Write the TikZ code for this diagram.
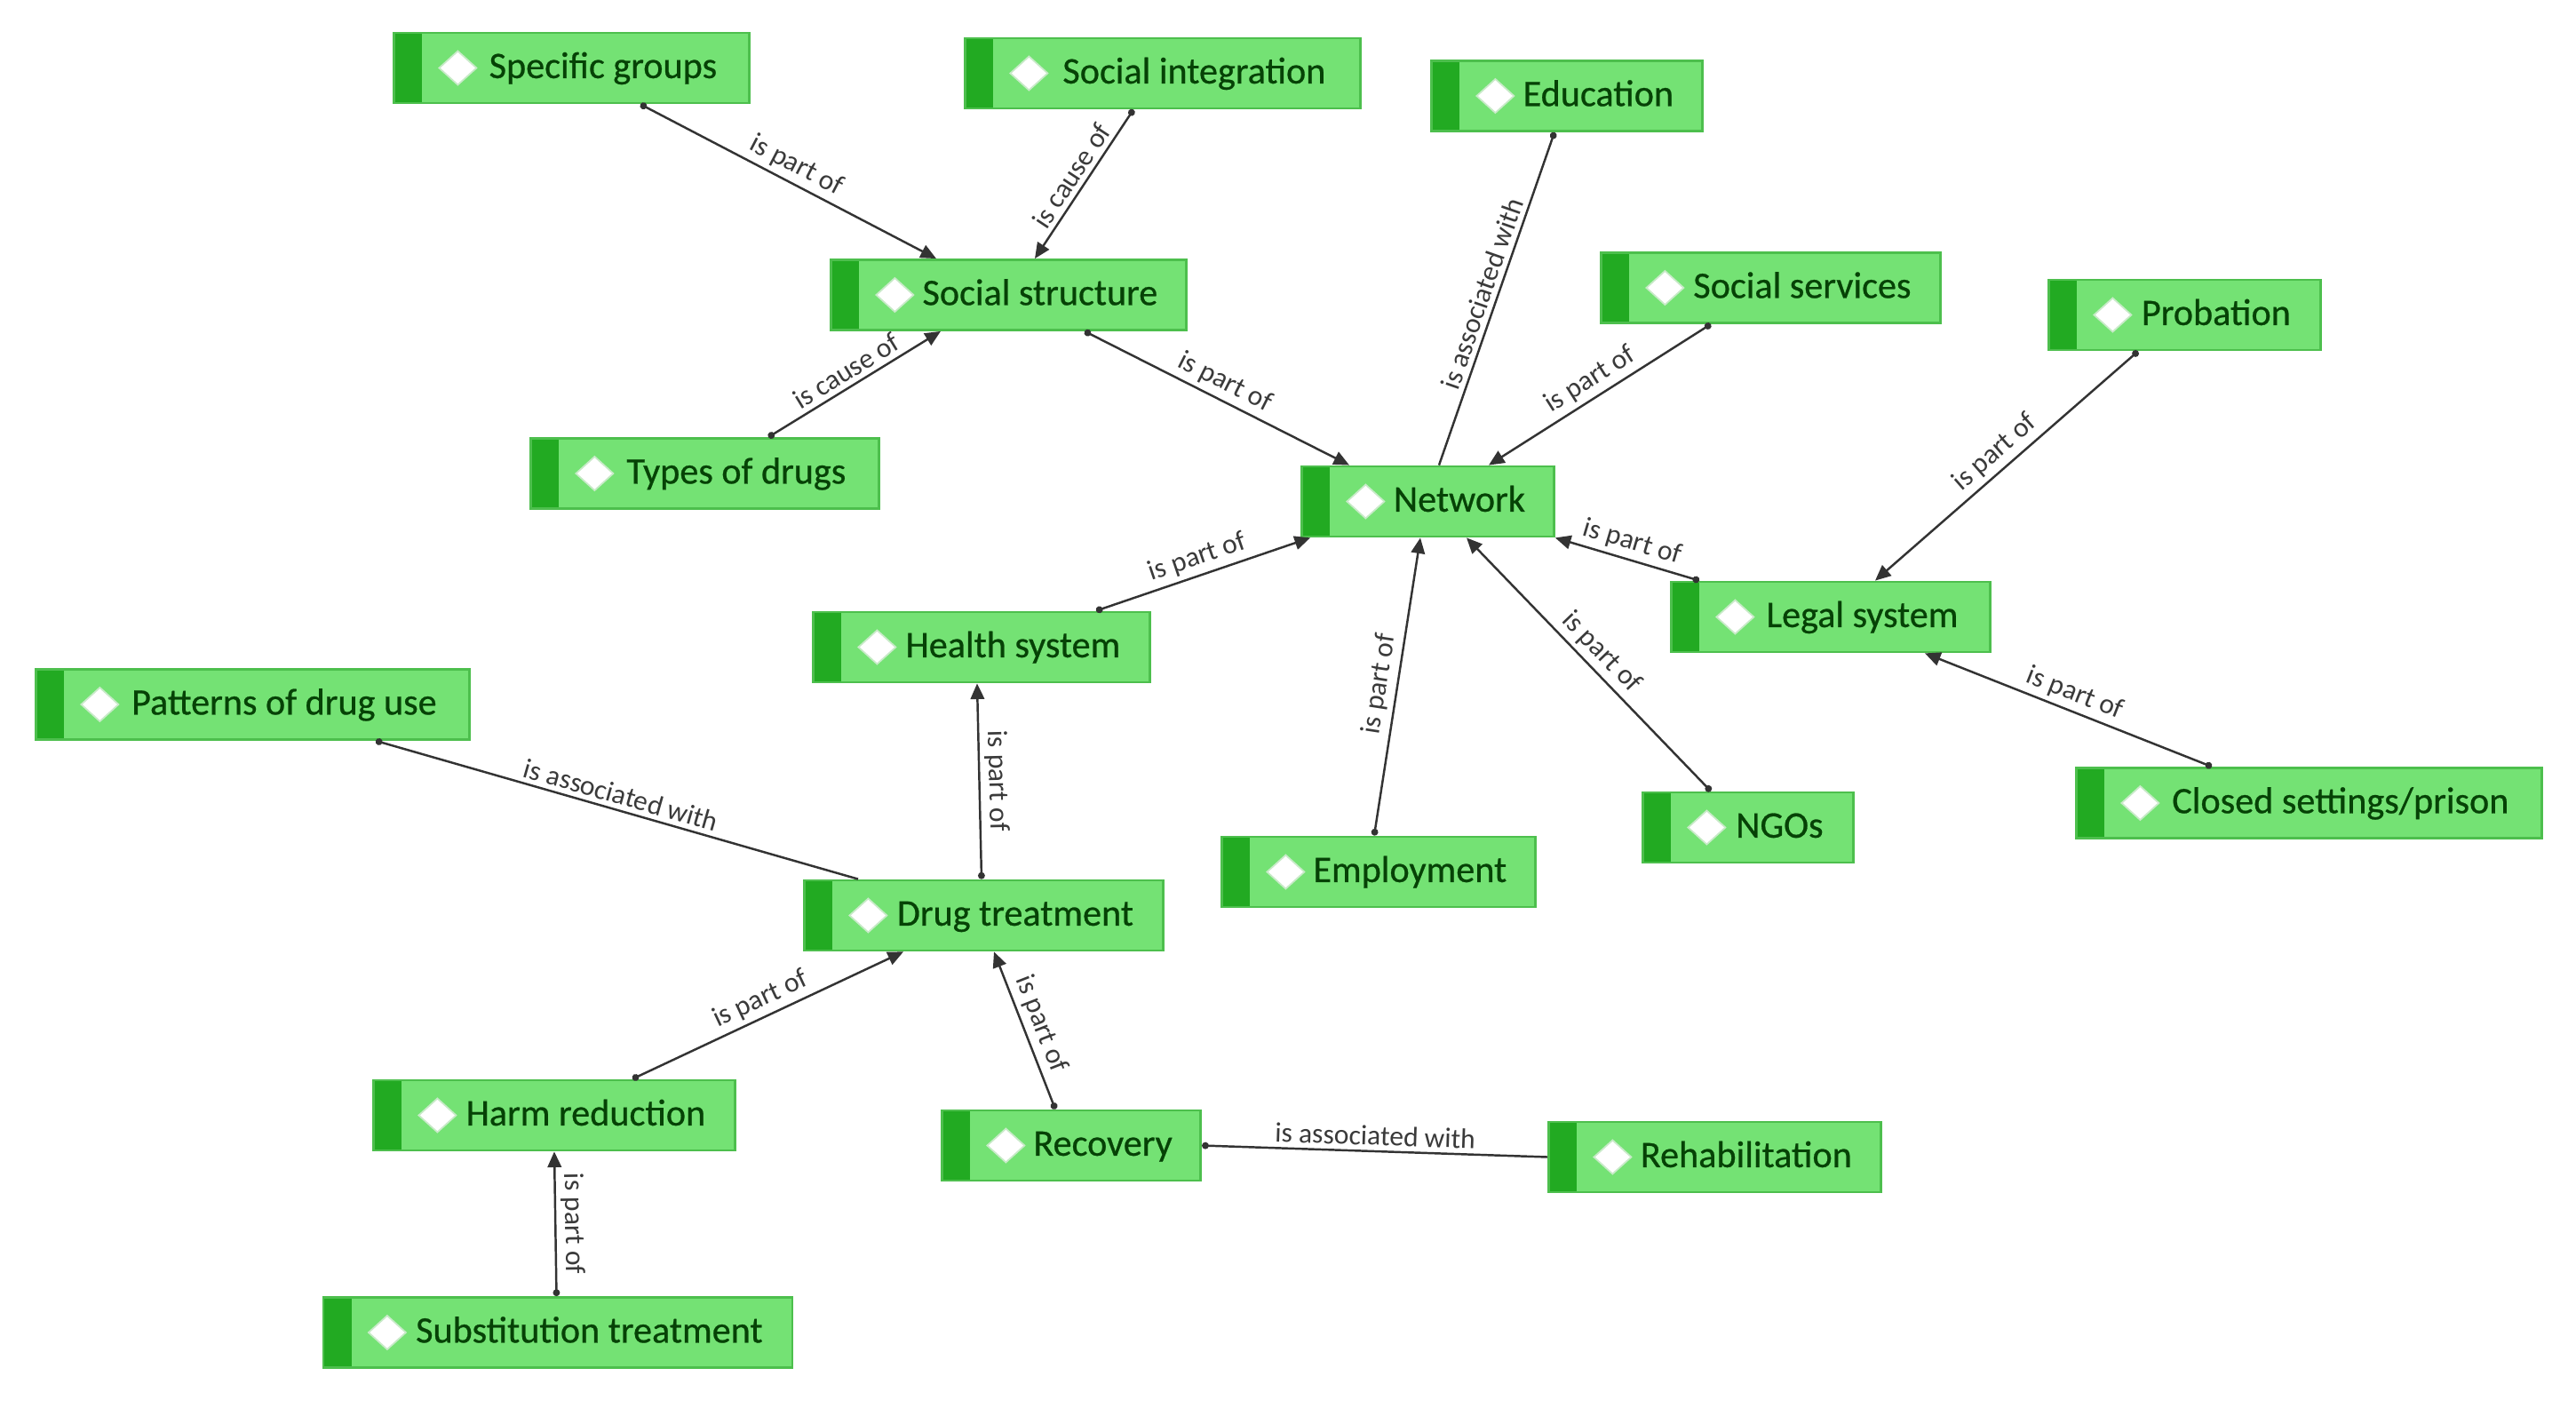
\documentclass[tikz,border=0pt]{standalone}
\usepackage{fontspec}
\setmainfont{Carlito}
\newfontfamily\conceptfont{Carlito}[FakeBold=0.6]
\usepackage{xcolor}
\usepackage{tikz}
\usetikzlibrary{arrows.meta}

\definecolor{conceptfill}{HTML}{74E274}
\definecolor{conceptborder}{HTML}{4DBF4D}
\definecolor{conceptstripe}{HTML}{22AA22}
\definecolor{concepttext}{HTML}{064206}
\definecolor{diamondedge}{HTML}{C8EAC8}
\definecolor{reledge}{HTML}{333333}
\definecolor{labeltext}{HTML}{3A3A3A}

\tikzset{
  concept/.style={rectangle, anchor=west, fill=conceptfill, draw=conceptborder,
    line width=0.8pt, minimum height=0.79cm, inner sep=0pt,
    text height=9pt, text depth=2.5pt, text=concepttext,
    font=\conceptfont\fontsize{12pt}{14pt}\selectfont,
    execute at begin node={\hspace*{1.03cm}},
    execute at end node={\hspace*{0.32cm}},
    path picture={
      \fill[conceptstripe] (path picture bounding box.south west) rectangle ([xshift=0.32cm]path picture bounding box.north west);
      \draw[fill=white, draw=diamondedge, line width=0.5pt] ([xshift=0.51cm]path picture bounding box.west)
        -- ++(0.21,0.19) -- ++(0.21,-0.19) -- ++(-0.21,-0.19) -- cycle;
    }},
  rel/.style={draw=reledge, line width=0.7pt, {Circle[length=2.2pt]}-{Triangle[length=5pt,width=4.4pt]}},
  assoc/.style={draw=reledge, line width=0.7pt, {Circle[length=2.2pt]}-},
  rellabel/.style={midway, sloped, above, inner sep=1.5pt, text=labeltext,
    font=\fontsize{9pt}{10pt}\selectfont},
}

\begin{document}
\begin{tikzpicture}

	\useasboundingbox (0,0) rectangle (29,-15.85);

	% concepts
	\node[concept, minimum width=4.00cm] (sg) at (4.42,-0.765) {Specific groups};
	\node[concept, minimum width=4.45cm] (si) at (10.85,-0.825) {Social integration};
	\node[concept, minimum width=3.05cm] (edu) at (16.10,-1.08) {Education};
	\node[concept, minimum width=4.00cm] (ss) at (9.34,-3.32) {Social structure};
	\node[concept, minimum width=3.82cm] (sserv) at (18.01,-3.24) {Social services};
	\node[concept, minimum width=3.06cm] (prob) at (23.05,-3.545) {Probation};
	\node[concept, minimum width=3.92cm] (tod) at (5.96,-5.33) {Types of drugs};
	\node[concept, minimum width=2.84cm] (net) at (14.64,-5.645) {Network};
	\node[concept, minimum width=3.59cm] (legal) at (18.80,-6.945) {Legal system};
	\node[concept, minimum width=3.79cm] (hs) at (9.14,-7.285) {Health system};
	\node[concept, minimum width=4.88cm] (pdu) at (0.39,-7.93) {Patterns of drug use};
	\node[concept, minimum width=3.46cm] (emp) at (13.74,-9.815) {Employment};
	\node[concept, minimum width=2.37cm] (ngo) at (18.48,-9.315) {NGOs};
	\node[concept, minimum width=5.24cm] (csp) at (23.36,-9.04) {Closed settings/prison};
	\node[concept, minimum width=4.04cm] (dt) at (9.04,-10.305) {Drug treatment};
	\node[concept, minimum width=4.07cm] (hr) at (4.19,-12.555) {Harm reduction};
	\node[concept, minimum width=2.91cm] (rec) at (10.59,-12.895) {Recovery};
	\node[concept, minimum width=3.74cm] (rehab) at (17.42,-13.025) {Rehabilitation};
	\node[concept, minimum width=5.28cm] (st) at (3.625,-15.00) {Substitution treatment};

	% relations
	\draw[rel] ([xshift=2.79cm]sg.south west) -- ([xshift=1.20cm]ss.north west) node[rellabel] {is part of};
	\draw[rel] ([xshift=1.91cm]si.south west) -- ([xshift=2.31cm]ss.north west) node[rellabel] {is cause of};
	\draw[rel] ([xshift=2.69cm]tod.north west) -- ([xshift=1.25cm]ss.south west) node[rellabel] {is cause of};
	\draw[rel] ([xshift=2.87cm]ss.south west) -- ([xshift=0.55cm]net.north west) node[rellabel] {is part of};
	\draw[assoc] ([xshift=1.40cm]edu.south west) -- ([xshift=1.56cm]net.north west) node[rellabel] {is associated with};
	\draw[rel] ([xshift=1.25cm]sserv.south west) -- ([xshift=2.12cm]net.north west) node[rellabel] {is part of};
	\draw[rel] ([xshift=0.33cm]legal.north west) -- (net.south east) node[rellabel] {is part of};
	\draw[rel] ([xshift=1.02cm]prob.south west) -- ([xshift=2.31cm]legal.north west) node[rellabel] {is part of};
	\draw[rel] ([xshift=1.54cm]csp.north west) -- ([xshift=2.87cm]legal.south west) node[rellabel] {is part of};
	\draw[rel] ([xshift=0.78cm]ngo.north west) -- ([xshift=1.87cm]net.south west) node[rellabel] {is part of};
	\draw[rel] ([xshift=1.73cm]emp.north west) -- ([xshift=1.35cm]net.south west) node[rellabel] {is part of};
	\draw[rel] ([xshift=3.20cm]hs.north west) -- ([xshift=0.11cm]net.south west) node[rellabel] {is part of};
	\draw[rel] ([xshift=2.01cm]dt.north west) -- ([xshift=1.86cm]hs.south west) node[rellabel] {is part of};
	\draw[assoc] ([xshift=3.84cm]pdu.south west) -- ([xshift=0.62cm]dt.north west) node[rellabel] {is associated with};
	\draw[rel] ([xshift=2.93cm]hr.north west) -- ([xshift=1.13cm]dt.south west) node[rellabel] {is part of};
	\draw[rel] ([xshift=1.29cm]rec.north west) -- ([xshift=2.15cm]dt.south west) node[rellabel] {is part of};
	\draw[assoc] (rec.east) -- (rehab.west) node[rellabel] {is associated with};
	\draw[rel] ([xshift=2.64cm]st.north west) -- ([xshift=2.05cm]hr.south west) node[rellabel] {is part of};

\end{tikzpicture}
\end{document}
